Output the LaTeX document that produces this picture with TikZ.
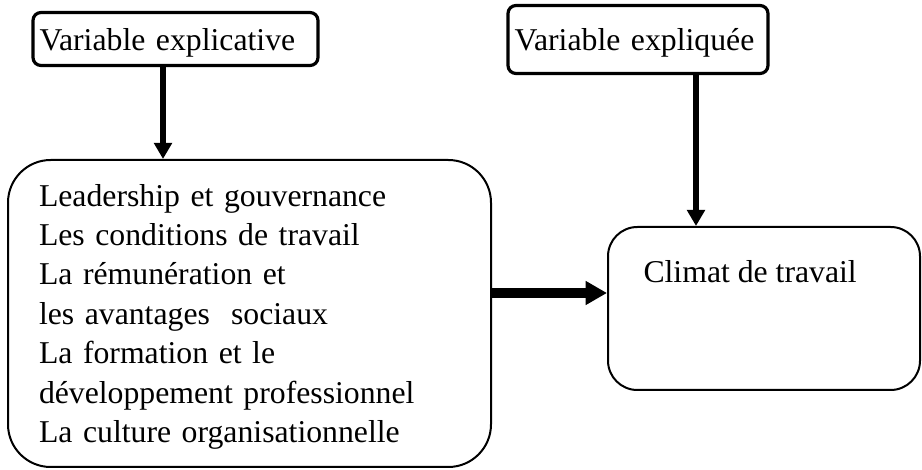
\documentclass[tikz,border=0pt]{standalone}
\usepackage{fontspec}
\setmainfont{Liberation Serif}
\usetikzlibrary{arrows.meta,calc}

\tikzset{every picture/.style={line width=0.75pt}}
\tikzset{
	varbox/.style={draw, line width=2.4pt, rounded corners=6pt, inner ysep=0pt, inner xsep=5pt, text depth=0pt, align=left, font=\bigfont},
	bigbox/.style={draw, line width=1.5pt, rounded corners=32pt, inner sep=0pt, align=left, font=\bigfont},
	thinarrow/.style={line width=3.8pt, -{Triangle[length=12pt,width=13pt]}},
	widearrow/.style={line width=7pt, -{Triangle[length=16pt,width=17pt]}}}
\newcommand{\bigfont}{\fontsize{23.8}{29.6}\selectfont}

\begin{document}
\begin{tikzpicture}[x=0.75pt,y=0.75pt,yscale=-1,xscale=1]
	\useasboundingbox (0,0) rectangle (922,470);

	%Rounded Rect
	\node[varbox, text width=203.75pt, minimum height=39.75pt] (expl) at (175.5,39) {Variable explicative};
	%Rounded Rect
	\node[varbox, text width=185pt, minimum height=51pt] (expliq) at (638,39.5) {Variable expliquée};
	%Rounded Rect
	\node[bigbox, text width=315.75pt, inner xsep=23.25pt, minimum height=230.25pt] (facteurs) at (249.5,313.5) {\rule{0pt}{21.5pt}Leadership et gouvernance\\
		Les conditions de travail\\
		La rémunération et\\
		les avantages\ \ sociaux\\
		La formation et le\\
		développement professionnel\\
		La culture organisationnelle};
	%Rounded Rect
	\node[bigbox, rounded corners=22pt, minimum width=234pt, minimum height=122.25pt] (climat) at (764,308.5) {};

	% Text Node
	\node[anchor=base west, inner sep=0pt, font=\bigfont] (climtxt) at (643,283) {Climat de travail};

	%Straight Lines
	\coordinate (v1) at ($(expl.south)+(-12.5,0)$);
	\draw[thinarrow] (v1) -- (v1 |- facteurs.north);
	%Straight Lines
	\coordinate (v2) at ($(expliq.south)+(58,0)$);
	\draw[thinarrow] (v2) -- (v2 |- climat.north);
	%Straight Lines
	\coordinate (h1) at ($(facteurs.east)+(0,-20.5)$);
	\draw[widearrow] (h1) -- (h1 -| climat.west);

\end{tikzpicture}
\end{document}
